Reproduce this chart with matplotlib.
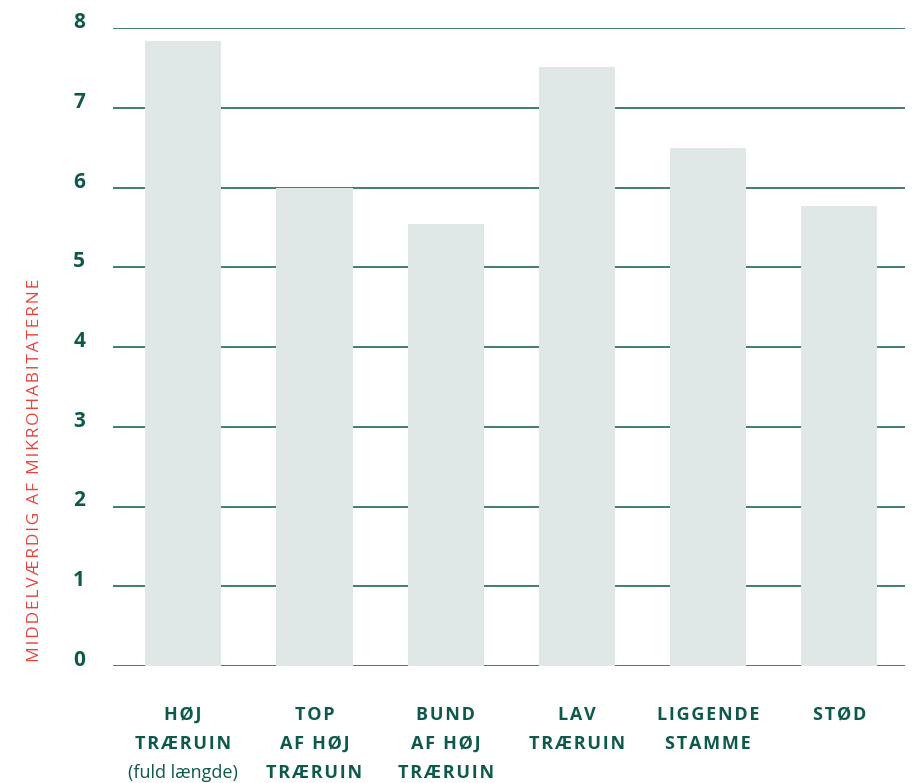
import matplotlib
matplotlib.use('Agg')
import matplotlib.pyplot as plt
import matplotlib.transforms as mtransforms

# Data
categories = [
    ['HØJ', 'TRÆRUIN', '(fuld længde)'],
    ['TOP', 'AF HØJ', 'TRÆRUIN'],
    ['BUND', 'AF HØJ', 'TRÆRUIN'],
    ['LAV', 'TRÆRUIN'],
    ['LIGGENDE', 'STAMME'],
    ['STØD'],
]
values = [7.84, 6.0, 5.54, 7.51, 6.5, 5.77]
yticks = [0, 1, 2, 3, 4, 5, 6, 7, 8]
ylabel = 'MIDDELVÆRDIG AF MIKROHABITATERNE'

green = '#0d5a4c'
bar_color = '#dfe8e6'
red = '#e8453c'

plt.rcParams['font.family'] = ['Open Sans', 'DejaVu Sans']


def spaced(s, sp='\u200a'):
    # crude letter spacing
    return sp.join(s)


fig = plt.figure(figsize=(9.22, 7.83), dpi=100)
ax = fig.add_axes([113 / 922, 1 - 666 / 783, (905 - 113) / 922, (666 - 28) / 783])

x = list(range(len(values)))
ax.bar(x, values, width=0.58, color=bar_color, zorder=3)
for t in yticks:
    ax.axhline(t, color=green, lw=1.1, zorder=2)

ax.set_xlim(-0.535, 5.5)
ax.set_ylim(0, 8)
ax.set_yticks(yticks)
ax.set_yticklabels([str(t) for t in yticks], fontsize=15, fontweight='bold', color=green)
ax.tick_params(axis='y', length=0, pad=20)
# lift the tick labels a little above their gridline
shift = mtransforms.ScaledTranslation(0, 8 / 100, fig.dpi_scale_trans)
for lab in ax.get_yticklabels():
    lab.set_transform(lab.get_transform() + shift)
ax.set_xticks([])
for s in ax.spines.values():
    s.set_visible(False)

# category labels, one line at a time
trans = mtransforms.blended_transform_factory(ax.transData, fig.transFigure)
for i, lines in enumerate(categories):
    for j, line in enumerate(lines):
        yy = 1 - (715 + 29 * j) / 783
        if line.startswith('('):
            ax.text(i, yy, line, transform=trans, ha='center', va='center',
                    fontsize=13, color=green)
        else:
            ax.text(i, yy, spaced(line), transform=trans, ha='center', va='center',
                    fontsize=13, fontweight='bold', color=green)

fig.text(35 / 922, 1 - 470 / 783, spaced(ylabel), rotation=90, ha='center', va='center',
         fontsize=12.5, color=red)

fig.savefig('out.png', dpi=100)
